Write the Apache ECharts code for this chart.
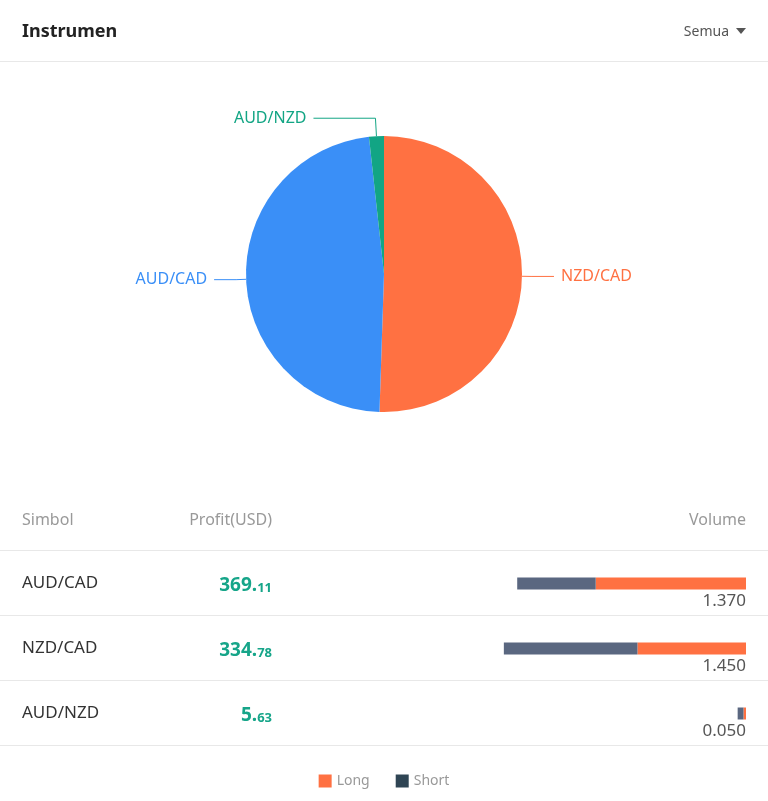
<!DOCTYPE html>
<html>
<head>
<meta charset="utf-8">
<script src="https://cdn.jsdelivr.net/npm/echarts@6/dist/echarts.min.js"></script>
<style>
html,body{margin:0;padding:0;background:#fff;}
#c{width:768px;height:801px;}
</style>
</head>
<body>
<div id="c"></div>
<script>
// ---- data ----
var symbols = ['AUD/CAD', 'NZD/CAD', 'AUD/NZD'];
var profits = [369.11, 334.78, 5.63];
var volumes = [1.37, 1.45, 0.05];
var longVol = [0.90, 0.65, 0.015];
var shortVol = [0.47, 0.80, 0.035];
var pieOrder = ['NZD/CAD', 'AUD/CAD', 'AUD/NZD'];
var pieColors = {'NZD/CAD': '#ff7142', 'AUD/CAD': '#3a8ff7', 'AUD/NZD': '#12a584'};
var headers = ['Simbol', 'Profit(USD)', 'Volume'];

var FONT = '"Noto Sans", "Open Sans", sans-serif';
var chart = echarts.init(document.getElementById('c'));

var pieData = pieOrder.map(function (n) {
  var i = symbols.indexOf(n);
  var item = {name: n, value: volumes[i], itemStyle: {color: pieColors[n]}, label: {color: pieColors[n]}, labelLine: {lineStyle: {color: pieColors[n]}}};
  if (n === 'AUD/NZD') { item.labelLine.length = 18; item.labelLine.length2 = 62; }
  return item;
});

var sepY = [61, 550, 615, 680, 745];
var graphics = [
  {type: 'text', left: 22, top: 23, style: {text: 'Instrumen', font: 'bold 18px ' + FONT, fill: '#222'}},
  {type: 'text', right: 39, top: 25, style: {text: 'Semua', font: '14px ' + FONT, fill: '#555'}},
  {type: 'polygon', shape: {points: [[736, 28], [746, 28], [741, 34]]}, style: {fill: '#555'}},
  {type: 'text', left: 22, top: 512, style: {text: headers[0], font: '16px ' + FONT, fill: '#999'}},
  {type: 'text', right: 768 - 272, top: 512, style: {text: headers[1], font: '16px ' + FONT, fill: '#999'}},
  {type: 'text', right: 22, top: 512, style: {text: headers[2], font: '16px ' + FONT, fill: '#999'}}
];
sepY.forEach(function (y) {
  graphics.push({type: 'line', shape: {x1: 0, y1: y + 0.5, x2: 768, y2: y + 0.5}, style: {stroke: '#e8e8e8', lineWidth: 1}});
});

function fmtProfit(v) {
  var s = v.toFixed(2).split('.');
  return '{a|' + s[0] + '.}{b|' + s[1] + '}';
}

var option = {
  animation: false,
  textStyle: {fontFamily: FONT},
  graphic: graphics,
  legend: {
    bottom: 8,
    left: 'center',
    itemWidth: 13,
    itemHeight: 13,
    itemGap: 26,
    icon: 'rect',
    textStyle: {color: '#999', fontSize: 14, fontFamily: FONT},
    data: [{name: 'Long', itemStyle: {color: '#ff7142'}}, {name: 'Short', itemStyle: {color: '#2f4554'}}]
  },
  grid: {left: 412, right: 22, top: 551, height: 195, containLabel: false},
  xAxis: {type: 'value', min: 0, max: 2, inverse: true, show: false},
  yAxis: [
    {
      type: 'category', data: symbols, inverse: true, position: 'left',
      axisLine: {show: false, onZero: false}, axisTick: {show: false}, splitLine: {show: false},
      axisLabel: {align: 'left', margin: 390, fontSize: 17, color: '#333', fontFamily: FONT, padding: [2, 0, 0, 0]}
    },
    {
      type: 'category', data: profits.map(fmtProfit), inverse: true, position: 'left',
      axisLine: {show: false, onZero: false}, axisTick: {show: false}, splitLine: {show: false},
      axisLabel: {
        align: 'right', margin: 140, padding: [5, 0, 0, 0],
        rich: {
          a: {fontSize: 19, fontWeight: 'bold', color: '#16a589', fontFamily: FONT},
          b: {fontSize: 13, fontWeight: 'bold', color: '#16a589', fontFamily: FONT, padding: [4, 0, 0, 0]}
        }
      }
    },
    {
      type: 'category', data: volumes.map(function (v) { return v.toFixed(3); }), inverse: true, position: 'right',
      axisLine: {show: false, onZero: false}, axisTick: {show: false}, splitLine: {show: false},
      axisLabel: {align: 'right', margin: 0, fontSize: 17, color: '#555', fontFamily: FONT, verticalAlign: 'top', padding: [9, 0, 0, 0]}
    }
  ],
  series: [
    {
      type: 'pie', center: [384, 274], radius: 138, startAngle: 90, clockwise: true,
      data: pieData,
      label: {fontSize: 16, fontFamily: FONT, distanceToLabelLine: 7},
      labelLine: {length: 10, length2: 22, lineStyle: {width: 1}},
      emphasis: {disabled: true}
    },
    {
      name: 'Long', type: 'bar', stack: 'v', yAxisIndex: 0, barWidth: 12,
      itemStyle: {color: '#ff7142'}, data: longVol
    },
    {
      name: 'Short', type: 'bar', stack: 'v', yAxisIndex: 0, barWidth: 12,
      itemStyle: {color: '#5a6780'}, data: shortVol
    }
  ]
};
chart.setOption(option);
</script>
</body>
</html>
